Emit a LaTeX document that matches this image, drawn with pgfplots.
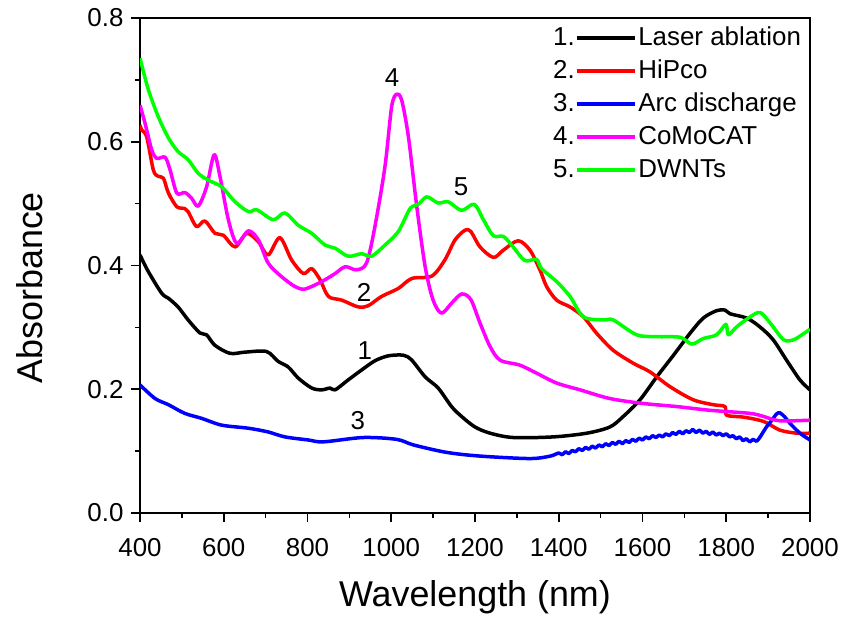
\documentclass[border=0pt]{standalone}
\usepackage{pgfplots}
\pgfplotsset{compat=1.18}
\usepackage{fontspec}
\setmainfont{Liberation Sans}

\definecolor{cBlack}{RGB}{0,0,0}
\definecolor{cRed}{RGB}{255,0,0}
\definecolor{cBlue}{RGB}{0,0,255}
\definecolor{cMag}{RGB}{255,0,255}
\definecolor{cGreen}{RGB}{0,255,0}

% legend sample: index number, then the line
\pgfplotsset{
  numbered legend/.style={
    legend image code/.code={
      \node[anchor=east,inner sep=0pt,text=black] at (0bp,0bp) {#1};
      \draw[##1] (0bp,0bp) -- (58bp,0bp);
    }
  }
}

\begin{document}
\begin{tikzpicture}
\path[use as bounding box] (-140bp,-106bp) rectangle (703bp,513bp);
\begin{axis}[
  scale only axis,
  width=670bp, height=495bp,
  xmin=400, xmax=2000, ymin=0, ymax=0.8,
  xtick={400,600,...,2000},
  ytick={0,0.2,0.4,0.6,0.8},
  minor x tick num=1,
  minor y tick num=1,
  xtick pos=lower, ytick pos=left,
  tick align=outside,
  major tick length=9bp,
  minor tick length=5bp,
  axis line style={line width=1.6bp},
  every tick/.style={line width=1.6bp, black},
  /pgf/number format/assume math mode=true,
  ticklabel style={font=\fontsize{26}{30}\selectfont},
  xticklabel style={/pgf/number format/1000 sep={}, yshift=-13bp},
  yticklabel style={/pgf/number format/.cd, fixed, fixed zerofill, precision=1, /tikz/xshift=-4bp},
  xlabel={Wavelength (nm)},
  ylabel={Absorbance},
  xlabel style={font=\fontsize{36}{40}\selectfont, at={(axis description cs:0.5,-0.170)}, anchor=center},
  ylabel style={font=\fontsize{36}{40}\selectfont, at={(axis description cs:-0.164,0.455)}, anchor=center},
  legend style={draw=none, fill=none, at={(axis description cs:0.612,0.992)}, anchor=north west,
    font=\fontsize{26}{30}\selectfont, row sep=5bp,
    nodes={text height=19bp, text depth=5bp, inner sep=2bp}},
  legend cell align=left,
  every axis plot/.append style={line width=3.5bp, line join=round, smooth, tension=0.5},
]

% 1. Laser ablation
\addplot[cBlack, numbered legend=1.] coordinates {
(400,0.417) (420,0.390) (452,0.355) (468,0.347) (491,0.333) (515,0.312)
(543,0.291) (559,0.288) (579,0.271) (615,0.258) (651,0.260) (702,0.261)
(730,0.245) (754,0.236) (778,0.218) (810,0.202) (834,0.199) (854,0.202)
(866,0.199) (897,0.215) (929,0.231) (961,0.246) (993,0.254) (1029,0.255)
(1049,0.247) (1081,0.220) (1112,0.202) (1144,0.172) (1168,0.156) (1200,0.139)
(1236,0.129) (1291,0.122) (1387,0.123) (1467,0.129) (1522,0.139) (1554,0.156)
(1594,0.183) (1634,0.220) (1674,0.255) (1713,0.290) (1745,0.315) (1777,0.327)
(1797,0.328) (1809,0.322) (1849,0.315) (1880,0.301) (1912,0.280) (1944,0.247)
(1976,0.215) (2000,0.199)
};
\addlegendentry{Laser ablation}

% 2. HiPco
\addplot[cRed, numbered legend=2.] coordinates {
(400,0.627) (404,0.619) (416,0.608) (432,0.554) (444,0.544) (456,0.541)
(468,0.517) (488,0.495) (507,0.492) (515,0.487) (535,0.463) (555,0.472)
(579,0.452) (599,0.449) (627,0.430) (655,0.452) (683,0.438) (706,0.417)
(734,0.445) (762,0.409) (790,0.387) (810,0.395) (830,0.377) (850,0.350)
(882,0.344) (921,0.333) (945,0.335) (977,0.350) (1017,0.363) (1049,0.379)
(1097,0.383) (1128,0.409) (1152,0.441) (1176,0.457) (1190,0.455) (1212,0.430)
(1244,0.413) (1268,0.425) (1303,0.440) (1331,0.425) (1355,0.393) (1371,0.366)
(1395,0.344) (1427,0.333) (1459,0.317) (1491,0.290) (1530,0.263) (1578,0.242)
(1618,0.228) (1666,0.204) (1721,0.183) (1769,0.175) (1797,0.172) (1801,0.158)
(1841,0.155) (1889,0.148) (1928,0.134) (1968,0.129) (2000,0.129)
};
\addlegendentry{HiPco}

% 3. Arc discharge (fine interference ripple in the near-IR)
\addplot[cBlue, numbered legend=3.] coordinates {
(400,0.207) (436,0.185) (468,0.175) (507,0.161) (547,0.153) (595,0.142)
(659,0.137) (706,0.131) (746,0.123) (802,0.118) (838,0.115) (933,0.122)
(1013,0.119) (1053,0.110) (1132,0.098) (1212,0.092) (1331,0.088) (1380,0.092)
(1400,0.097) (1408,0.094) (1416,0.099) (1424,0.096) (1432,0.101) (1440,0.099)
(1448,0.104) (1456,0.101) (1464,0.106) (1472,0.103) (1480,0.108) (1488,0.105)
(1496,0.110) (1504,0.107) (1512,0.112) (1520,0.109) (1528,0.114) (1536,0.111)
(1544,0.116) (1552,0.112) (1560,0.117) (1568,0.114) (1576,0.119) (1584,0.116)
(1592,0.121) (1600,0.118) (1608,0.123) (1616,0.120) (1624,0.125) (1632,0.122)
(1640,0.126) (1648,0.123) (1656,0.128) (1664,0.125) (1672,0.130) (1680,0.127)
(1688,0.132) (1696,0.128) (1704,0.133) (1712,0.130) (1720,0.135) (1728,0.130)
(1736,0.134) (1744,0.129) (1752,0.132) (1760,0.127) (1768,0.131) (1776,0.126)
(1784,0.129) (1792,0.125) (1800,0.128) (1808,0.123) (1816,0.125) (1824,0.120)
(1832,0.123) (1840,0.117) (1848,0.120) (1856,0.115) (1864,0.119) (1872,0.116)
(1880,0.122) (1895,0.138) (1909,0.150) (1920,0.160) (1928,0.162) (1940,0.155)
(1952,0.145) (1976,0.129) (2000,0.118)
};
\addlegendentry{Arc discharge}

% 4. CoMoCAT
\addplot[cMag, numbered legend=4.] coordinates {
(400,0.659) (412,0.630) (428,0.587) (440,0.573) (460,0.575) (472,0.554)
(488,0.517) (507,0.518) (523,0.509) (539,0.496) (559,0.527) (577,0.579)
(591,0.544) (611,0.474) (631,0.436) (659,0.456) (683,0.441) (706,0.404)
(738,0.382) (770,0.366) (794,0.362) (834,0.374) (866,0.387) (890,0.398)
(917,0.393) (941,0.404) (961,0.463) (985,0.560) (1001,0.657) (1013,0.677)
(1025,0.667) (1041,0.608) (1061,0.495) (1081,0.398) (1100,0.344) (1120,0.323)
(1144,0.339) (1168,0.354) (1190,0.345) (1212,0.307) (1236,0.269) (1260,0.247)
(1307,0.239) (1347,0.226) (1395,0.210) (1451,0.199) (1522,0.185) (1602,0.177)
(1682,0.172) (1761,0.166) (1857,0.161) (1889,0.156) (1928,0.149) (2000,0.150)
};
\addlegendentry{CoMoCAT}

% 5. DWNTs
\addplot[cGreen, numbered legend=5.] coordinates {
(400,0.735) (420,0.684) (444,0.640) (468,0.606) (491,0.584) (515,0.571)
(539,0.549) (563,0.538) (595,0.527) (627,0.503) (659,0.487) (679,0.490)
(718,0.474) (746,0.485) (778,0.465) (810,0.452) (842,0.433) (866,0.428)
(897,0.415) (929,0.419) (953,0.415) (985,0.433) (1017,0.455) (1045,0.492)
(1065,0.499) (1085,0.511) (1112,0.501) (1136,0.503) (1168,0.489) (1198,0.499)
(1220,0.474) (1244,0.448) (1268,0.447) (1291,0.430) (1319,0.408) (1347,0.410)
(1359,0.395) (1395,0.374) (1427,0.350) (1459,0.317) (1507,0.312) (1530,0.312)
(1586,0.288) (1634,0.285) (1690,0.284) (1718,0.273) (1745,0.282) (1777,0.288)
(1799,0.305) (1805,0.288) (1825,0.301) (1857,0.317) (1881,0.324) (1905,0.307)
(1937,0.280) (1961,0.280) (1985,0.290) (2000,0.297)
};
\addlegendentry{DWNTs}

% curve numbers
\begin{scope}[every node/.style={font=\fontsize{26}{30}\selectfont, inner sep=0pt}]
\node at (axis cs:937,0.263) {1};
\node at (axis cs:935,0.357) {2};
\node at (axis cs:920,0.150) {3};
\node at (axis cs:1002,0.703) {4};
\node at (axis cs:1167,0.527) {5};
\end{scope}
\end{axis}
\end{tikzpicture}
\end{document}
